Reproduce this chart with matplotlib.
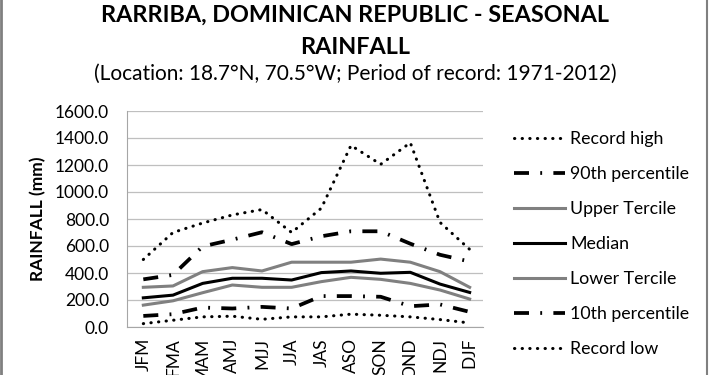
import matplotlib
matplotlib.use('Agg')
import matplotlib.pyplot as plt
from matplotlib.lines import Line2D

# Dados (mm)
estacoes = ['JFM', 'FMA', 'MAM', 'AMJ', 'MJJ', 'JJA', 'JAS', 'ASO', 'SON', 'OND', 'NDJ', 'DJF']
recorde_max = [500, 700, 770, 830, 870, 700, 880, 1345, 1205, 1365, 775, 575]
perc_90 = [353, 386, 597, 647, 702, 614, 672, 709, 709, 617, 535, 485]
tercil_sup = [294, 304, 410, 440, 415, 480, 480, 480, 503, 480, 410, 294]
mediana = [216, 236, 323, 361, 361, 348, 403, 415, 398, 405, 318, 256]
tercil_inf = [162, 194, 254, 311, 294, 294, 336, 368, 353, 323, 274, 207]
perc_10 = [82, 95, 144, 137, 149, 137, 229, 229, 224, 154, 167, 112]
recorde_min = [25, 50, 75, 80, 57, 75, 75, 95, 87, 75, 55, 30]

plt.rcParams['font.family'] = ['Lato', 'DejaVu Sans']

fig = plt.figure(figsize=(7.1, 3.75), dpi=100)
ax = fig.add_axes([127 / 710, 1 - 327 / 375, (483 - 127) / 710, (327 - 111) / 375])

x = range(len(estacoes))
lw = 2.2
ax.plot(x, recorde_max, color='black', lw=lw, linestyle=(0, (0.1, 2.4)), dash_capstyle='round', label='Record high')
ax.plot(x, perc_90, color='black', lw=lw + 0.5, linestyle=(0, (4, 3, 0.5, 3)), label='90th percentile')
ax.plot(x, tercil_sup, color='#808080', lw=lw, label='Upper Tercile')
ax.plot(x, mediana, color='black', lw=lw, label='Median')
ax.plot(x, tercil_inf, color='#808080', lw=lw, label='Lower Tercile')
ax.plot(x, perc_10, color='black', lw=lw + 0.5, linestyle=(0, (4, 3, 0.5, 3)), label='10th percentile')
ax.plot(x, recorde_min, color='black', lw=lw, linestyle=(0, (0.1, 2.4)), dash_capstyle='round', label='Record low')

ax.set_xlim(-0.55, 11.45)
ax.set_ylim(0, 1600)
ax.set_yticks(range(0, 1601, 200))
ax.set_yticklabels([f'{v:.1f}' for v in range(0, 1601, 200)], fontsize=12.5)
ax.set_xticks(list(x))
ax.set_xticklabels(estacoes, rotation=90, fontsize=12.5)
ax.tick_params(axis='y', length=0, pad=13)
ax.tick_params(axis='x', length=0, pad=8)
ax.grid(axis='y', color='#bfbfbf', lw=0.9)
ax.set_axisbelow(True)
for s in ['top', 'right']:
    ax.spines[s].set_visible(False)
for s in ['left', 'bottom']:
    ax.spines[s].set_color('#a6a6a6')
ax.set_ylabel('RAINFALL (mm)', fontsize=12.5, fontweight='bold', labelpad=6)

ax.legend(loc='upper left', bbox_to_anchor=(514 / 710, 1 - 131 / 375), bbox_transform=fig.transFigure,
          frameon=False, fontsize=12.8, handlelength=2.85, handletextpad=0.3, labelspacing=1.07,
          borderpad=0, borderaxespad=0)

fig.text(0.5, 1 - 15 / 375, 'RARRIBA, DOMINICAN REPUBLIC - SEASONAL', ha='center', va='center',
         fontsize=16.8, fontweight='bold')
fig.text(0.5, 1 - 47 / 375, 'RAINFALL', ha='center', va='center', fontsize=16.8, fontweight='bold')
fig.text(0.5, 1 - 74 / 375, '(Location: 18.7°N, 70.5°W; Period of record: 1971-2012)', ha='center',
         va='center', fontsize=15)

# bordas laterais
fig.add_artist(Line2D([0.002, 0.002], [0, 1], transform=fig.transFigure, color='#808080', lw=2))
fig.add_artist(Line2D([0.996, 0.996], [0, 1], transform=fig.transFigure, color='#808080', lw=1.5))

fig.savefig('out.png', dpi=100)
